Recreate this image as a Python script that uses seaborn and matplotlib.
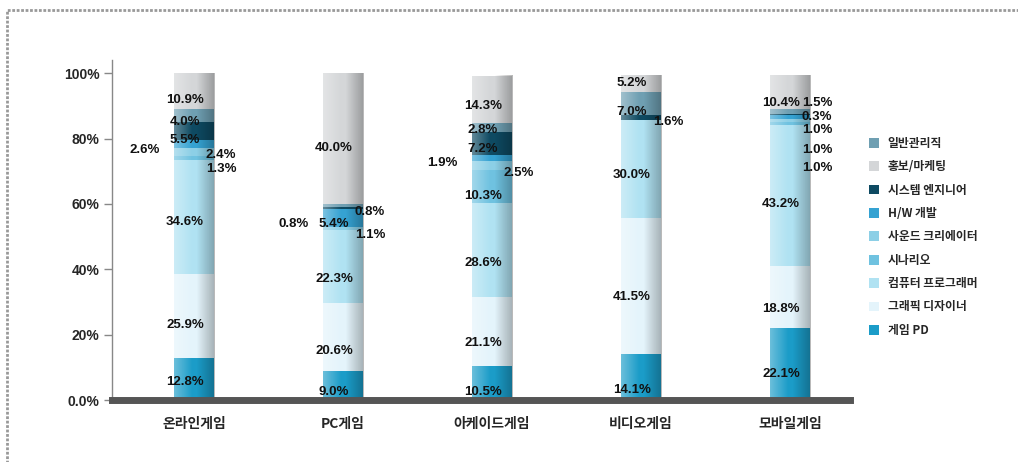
import numpy as np
import pandas as pd
import matplotlib
matplotlib.use('Agg')
import matplotlib.pyplot as plt
from matplotlib.patches import Patch, Rectangle
import seaborn as sns

categories = ['온라인게임', 'PC게임', '아케이드게임', '비디오게임', '모바일게임']

# 직군별 비율 (%)
game_pd = [12.8, 9.0, 10.5, 14.1, 22.1]
graphic = [25.9, 20.6, 21.1, 41.5, 18.8]
programmer = [34.6, 22.3, 28.6, 30.0, 43.2]
scenario = [1.3, 0.0, 10.3, 0.0, 1.0]
sound = [2.4, 1.1, 2.5, 0.0, 1.0]
hw_dev = [2.6, 5.4, 1.9, 0.0, 1.0]
system_eng = [5.5, 0.8, 7.2, 1.6, 0.3]
admin = [4.0, 0.8, 2.8, 7.0, 1.5]
marketing = [10.9, 40.0, 14.3, 5.2, 10.4]

legend_order = ['일반관리직', '홍보/마케팅', '시스템 엔지니어', 'H/W 개발', '사운드 크리에이터',
                '시나리오', '컴퓨터 프로그래머', '그래픽 디자이너', '게임 PD']

df = pd.DataFrame({
    'category': categories,
    '게임 PD': game_pd,
    '그래픽 디자이너': graphic,
    '컴퓨터 프로그래머': programmer,
    '시나리오': scenario,
    '사운드 크리에이터': sound,
    'H/W 개발': hw_dev,
    '시스템 엔지니어': system_eng,
    '일반관리직': admin,
    '홍보/마케팅': marketing,
})
stack_order = ['게임 PD', '그래픽 디자이너', '컴퓨터 프로그래머', '시나리오', '사운드 크리에이터',
               'H/W 개발', '시스템 엔지니어', '일반관리직', '홍보/마케팅']

colors = {
    '일반관리직': '#6f9fb2',
    '홍보/마케팅': '#d4d6d8',
    '시스템 엔지니어': '#0e4a62',
    'H/W 개발': '#35a2d2',
    '사운드 크리에이터': '#8ccfe6',
    '시나리오': '#6fc2e0',
    '컴퓨터 프로그래머': '#b0e2f2',
    '그래픽 디자이너': '#e4f4fb',
    '게임 PD': '#1b9cc8',
}

# 라벨 위치 (y, 좌/중/우)
lab_y = {
    '홍보/마케팅': [91.7, 77, 90, 97, 91],
    '일반관리직': [85, 57.5, 82.5, 88, 91],
    '시스템 엔지니어': [79.5, 54, 76.7, 85, 86.5],
    'H/W 개발': [76.5, 54, 72.5, None, 82.6],
    '사운드 크리에이터': [75, 50.5, 69.4, None, 76.5],
    '시나리오': [70.8, None, 62.4, None, 71],
    '컴퓨터 프로그래머': [54.4, 37, 42, 68.8, 60],
    '그래픽 디자이너': [23, 15, 17.4, 31.5, 28],
    '게임 PD': [5.5, 2.5, 2.5, 3, 8],
}
lab_side = {
    '홍보/마케팅': 'ccccc',
    '일반관리직': 'crccr',
    '시스템 엔지니어': 'clcrr',
    'H/W 개발': 'lcl-r',
    '사운드 크리에이터': 'rrr-r',
    '시나리오': 'r-c-r',
    '컴퓨터 프로그래머': 'ccccc',
    '그래픽 디자이너': 'ccccc',
    '게임 PD': 'ccccc',
}

sns.set_theme(style='white')
plt.rcParams['font.family'] = ['Noto Sans CJK KR', 'DejaVu Sans']

fig = plt.figure(figsize=(10.18, 4.62), dpi=100)
ax = fig.add_axes([0.110, 0.134, 0.725, 0.736])

cum = df[stack_order].cumsum(axis=1)
for job in reversed(stack_order):
    sns.barplot(x=df['category'], y=cum[job], order=categories, color=colors[job],
                saturation=1, width=0.27, linewidth=0, ax=ax)

# 원통 느낌의 음영
grad = np.zeros((1, 64, 4))
t = np.linspace(0, 1, 64)
light = np.clip(1 - t / 0.45, 0, 1) * 0.35
dark = np.clip((t - 0.55) / 0.45, 0, 1) * 0.28
grad[0, :, :3] = np.where(light[:, None] > 0, 1.0, 0.0)
grad[0, :, 3] = light + dark
for p in ax.containers[0].patches:
    ax.imshow(grad, extent=(p.get_x(), p.get_x() + p.get_width(), 0, p.get_height()),
              aspect='auto', zorder=3, interpolation='bilinear')

for job in stack_order:
    for i, v in enumerate(df[job]):
        side = lab_side[job][i]
        y = lab_y[job][i]
        if side == '-' or y is None:
            continue
        if side == 'c':
            x, ha = i - 0.06, 'center'
        elif side == 'l':
            x, ha = i - 0.23, 'right'
        else:
            x, ha = i + 0.08, 'left'
        ax.text(x, y, f'{v:.1f}%', ha=ha, va='center', fontsize=9.5,
                fontweight='bold', family='Liberation Sans', color='#111111', zorder=5)

ax.set_xlim(-0.55, 4.403)
ax.set_ylim(0, 104)
ax.set_yticks([0, 20, 40, 60, 80, 100])
ax.set_yticklabels(['0.0%', '20%', '40%', '60%', '80%', '100%'],
                   fontsize=10, fontweight='bold', family='Liberation Sans')
ax.set_xticks(range(len(categories)))
ax.set_xticklabels(categories, fontsize=10, fontweight='bold')
ax.set_xticks([i + 0.39 for i in range(len(categories))], minor=True)
ax.tick_params(axis='x', which='major', length=0, pad=12)
ax.tick_params(axis='x', which='minor', direction='in', length=7, width=1, color='#777777')
ax.tick_params(axis='y', length=6, width=1, color='#888888', left=True, pad=3)
ax.set_xlabel('')
ax.set_ylabel('')
for s in ['top', 'right']:
    ax.spines[s].set_visible(False)
ax.spines['left'].set_color('#888888')
ax.spines['left'].set_linewidth(1)
ax.spines['bottom'].set_color('#555555')
ax.spines['bottom'].set_linewidth(5)
ax.spines['bottom'].set_zorder(6)

handles = [Patch(facecolor=colors[j], edgecolor='none') for j in legend_order]
fig.legend(handles, legend_order, loc='upper left', bbox_to_anchor=(0.843, 0.727),
           frameon=False, handlelength=0.9, handleheight=0.9,
           labelspacing=0.88, handletextpad=0.7, prop={'weight': 'bold', 'size': 8.5})

fig.patches.append(Rectangle((7 / 1018, -0.05), 1.1, 1 - 10 / 462 + 0.05,
                             transform=fig.transFigure, fill=False,
                             edgecolor='#999999', linewidth=2, linestyle=(0, (1, 0.6))))

fig.savefig('out.png', dpi=100)
